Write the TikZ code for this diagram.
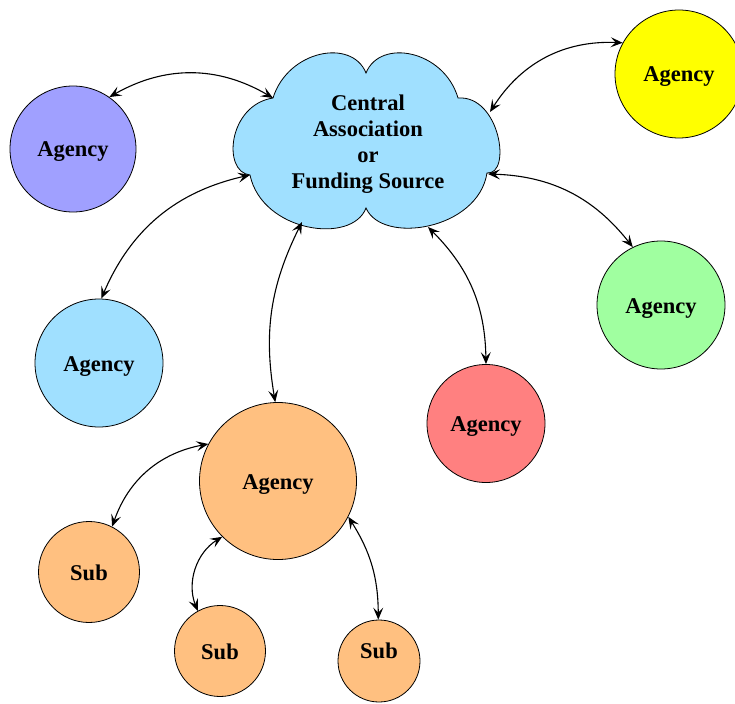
\documentclass[tikz,border=0pt]{standalone}
\usepackage{fontspec}
\setmainfont{Liberation Serif}
\usetikzlibrary{arrows.meta}
\definecolor{cpurple}{HTML}{A0A0FF}
\definecolor{cyellow}{HTML}{FFFF00}
\definecolor{cblue}{HTML}{A0E0FF}
\definecolor{cgreen}{HTML}{A0FFA0}
\definecolor{cred}{HTML}{FF8080}
\definecolor{corange}{HTML}{FFC080}
\tikzset{
  agency/.style={circle, draw=black, line width=0.8pt, inner sep=0pt, text height=21pt, text depth=5pt, font=\fontsize{22.5}{26}\selectfont\bfseries},
  link/.style={{Stealth[length=12pt,width=10pt,inset=5pt]}-{Stealth[length=12pt,width=10pt,inset=5pt]}, line width=1.1pt},
  cloudshape/.style={draw=black, line width=0.8pt, fill=cblue}
}
\begin{document}
\begin{tikzpicture}[x=1pt,y=1pt]
\useasboundingbox (0,0) rectangle (735,-703);
% cloud
\path[cloudshape] (273,-98) .. controls (288,-50) and (352,-38) .. (366,-73)
  .. controls (380,-38) and (444,-50) .. (458,-98)
  .. controls (500,-95) and (512,-175) .. (487,-173)
  .. controls (478,-230) and (382,-245) .. (366,-208)
  .. controls (352,-245) and (262,-232) .. (250,-175)
  .. controls (222,-172) and (228,-105) .. (273,-98) -- cycle;
\node[align=center, font=\fontsize{22.5}{26}\selectfont\bfseries] (central) at (368,-144.5) {Central\\Association\\or\\Funding Source};
\coordinate (cP) at (273,-98);
\coordinate (cY) at (490,-112);
\coordinate (cL) at (250,-175);
\coordinate (cG) at (488,-174);
\coordinate (cB) at (302,-222);
\coordinate (cR) at (428,-227);
% agencies
\node[agency, fill=cpurple, minimum size=126pt] (purple) at (73,-149) {Agency};
\node[agency, fill=cyellow, minimum size=128pt] (yellow) at (679,-74) {Agency};
\node[agency, fill=cblue, minimum size=128pt] (lblue) at (99,-363) {Agency};
\node[agency, fill=cgreen, minimum size=128pt] (green) at (661,-305) {Agency};
\node[agency, fill=cred, minimum size=118pt] (red) at (486,-423.5) {Agency};
\node[agency, fill=corange, minimum size=157pt] (orange) at (278,-481) {Agency};
\node[agency, fill=corange, minimum size=101pt] (subL) at (89,-572) {Sub};
\node[agency, fill=corange, minimum size=91pt] (subM) at (220,-651) {Sub};
\node[agency, fill=corange, minimum size=82pt, text depth=26pt] (subR) at (379,-661) {Sub};
% connectors
\draw[link] (purple.55) to[bend left=30] (cP);
\draw[link] (cY) to[bend left=30] (yellow.151);
\draw[link] (lblue.88) to[bend left=27] (cL);
\draw[link] (cG) to[bend left=25] (green.116);
\draw[link] (orange.92) to[bend left=18] (cB);
\draw[link] (cR) to[bend left=22] (red.90);
\draw[link] (subL.63) to[bend left=30] (orange.152);
\draw[link] (subM.119) to[bend left=40] (orange.225);
\draw[link] (orange.333) to[bend left=16] (subR.91);
\end{tikzpicture}
\end{document}
